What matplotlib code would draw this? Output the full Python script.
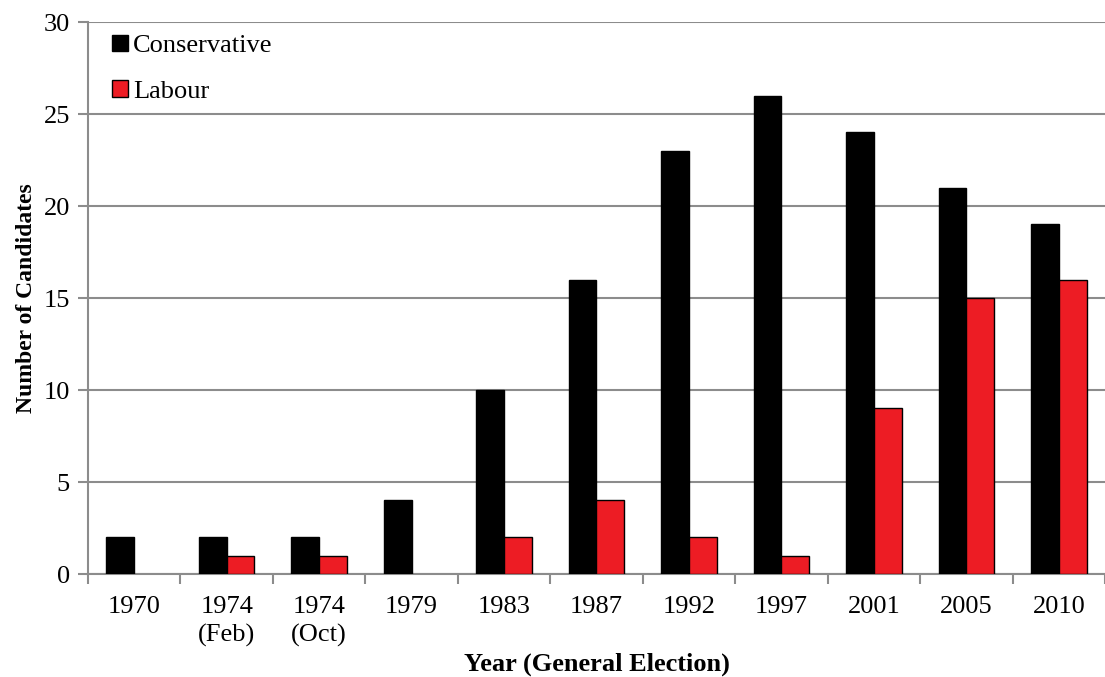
import numpy as np
import matplotlib
matplotlib.use('Agg')
import matplotlib.pyplot as plt
from matplotlib.patches import Patch
from matplotlib.ticker import FixedLocator, NullFormatter

years = ['1970', '1974\n(Feb)', '1974\n(Oct)', '1979', '1983', '1987',
         '1992', '1997', '2001', '2005', '2010']
conservative = [2, 2, 2, 4, 10, 16, 23, 26, 24, 21, 19]
labour = [0, 1, 1, 0, 2, 4, 2, 1, 9, 15, 16]

plt.rcParams['font.family'] = ['Liberation Serif', 'DejaVu Serif']

fig = plt.figure(figsize=(11.05, 6.77), dpi=100)
ax = fig.add_axes([0.0796, 0.152, 0.9204, 0.8155])

x = np.arange(len(years))
w = 0.3
ax.bar(x - w/2, conservative, w, color='black', edgecolor='black',
       linewidth=1, zorder=3)
lab_edges = ['black' if v > 0 else 'none' for v in labour]
ax.bar(x + w/2, labour, w, color='#ED1C24', edgecolor=lab_edges,
       linewidth=1, zorder=3)

ax.set_xlim(-0.5, len(years) - 0.5)
ax.set_ylim(0, 30)
ax.set_yticks(range(0, 31, 5))
ax.yaxis.grid(True, color='#8c8c8c', linewidth=1.5, zorder=0)
ax.set_axisbelow(True)

ax.set_xticks(x)
ax.set_xticklabels(years, fontsize=19, linespacing=1.3)
ax.xaxis.set_minor_locator(FixedLocator(np.arange(-0.5, len(years), 1)))
ax.xaxis.set_minor_formatter(NullFormatter())
ax.tick_params(axis='x', which='major', length=0, pad=16)
ax.tick_params(axis='x', which='minor', length=7, width=1.5, color='#8c8c8c')
ax.tick_params(axis='y', length=7, width=1.5, color='#8c8c8c', labelsize=19, pad=6)

for s in ['top', 'right']:
    ax.spines[s].set_visible(False)
ax.spines['left'].set_color('#8c8c8c')
ax.spines['left'].set_linewidth(1.5)
ax.spines['bottom'].set_color('#8c8c8c')
ax.spines['bottom'].set_linewidth(1.5)

ax.set_xlabel('Year (General Election)', fontsize=19, fontweight='bold', labelpad=4)
ax.set_ylabel('Number of Candidates', fontsize=17, fontweight='bold', labelpad=5)

handles = [Patch(facecolor='black', edgecolor='black', label='Conservative'),
           Patch(facecolor='#ED1C24', edgecolor='black', label='Labour')]
ax.legend(handles=handles, loc='upper left', frameon=False, fontsize=19,
          handlelength=0.6, handleheight=0.6, handletextpad=0.2,
          labelspacing=0.85, bbox_to_anchor=(0.0, 1.02))

fig.savefig('out.png', dpi=100)
